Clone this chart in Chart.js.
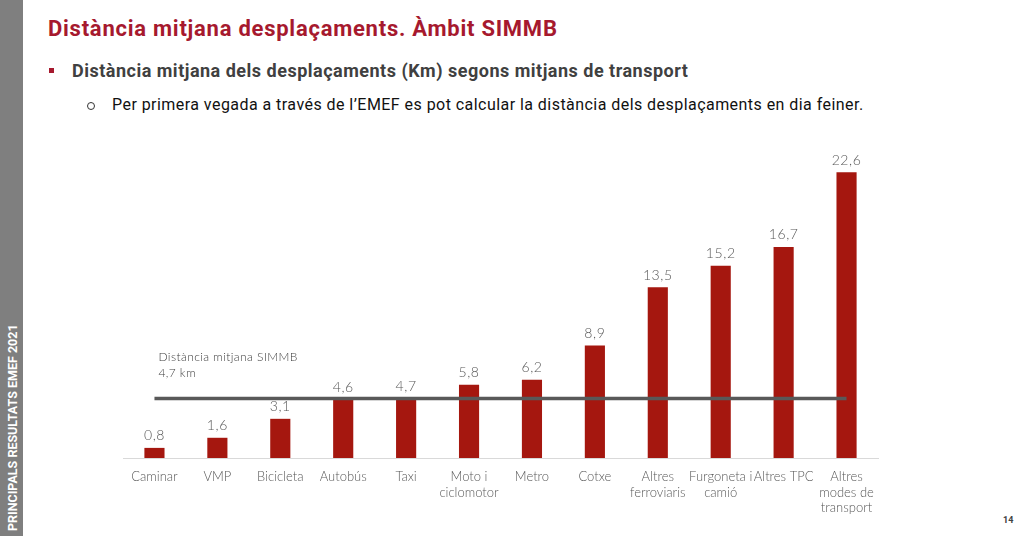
<!DOCTYPE html>
<html>
<head>
<meta charset="utf-8">
<script src="https://cdn.jsdelivr.net/npm/chart.js@4"></script>
<style>
  body { margin: 0; width: 1024px; height: 536px; overflow: hidden; background: #fff; font-family: Roboto, sans-serif; position: relative; }
  .barra { position: absolute; left: 0; top: 0; width: 23px; height: 536px; background: #7f7f7f; }
  .barra span { position: absolute; left: 12px; top: 531px; transform-origin: 0 0; transform: rotate(-90deg) translateY(-50%); white-space: nowrap; color: #fff; font-weight: bold; font-size: 12.5px; }
  h1 { position: absolute; left: 48px; top: 16px; margin: 0; font-size: 22px; letter-spacing: 0.75px; color: #a6192e; font-weight: bold; }
  .sub { position: absolute; left: 72px; top: 60px; font-size: 18px; letter-spacing: 0.5px; font-weight: bold; color: #404040; }
  .quad { position: absolute; left: 49px; top: 68px; width: 5px; height: 5px; background: #a6192e; }
  .sub2 { position: absolute; left: 112px; top: 95px; font-size: 16px; letter-spacing: 0.45px; color: #111; }
  .cercle { position: absolute; left: 87px; top: 102px; width: 6px; height: 6px; border: 1px solid #333; border-radius: 50%; }
  .pag { position: absolute; left: 1003px; top: 515px; font-size: 9px; font-weight: bold; color: #404040; }
  #grafic { position: absolute; left: 0; top: 0; }
</style>
</head>
<body>
<div class="barra"><span>PRINCIPALS RESULTATS EMEF 2021</span></div>
<h1>Distància mitjana desplaçaments. Àmbit SIMMB</h1>
<div class="quad"></div>
<div class="sub">Distància mitjana dels desplaçaments (Km) segons mitjans de transport</div>
<div class="cercle"></div>
<div class="sub2">Per primera vegada a través de l’EMEF es pot calcular la distància dels desplaçaments en dia feiner.</div>
<div class="pag">14</div>
<canvas id="grafic" width="1024" height="536"></canvas>
<script>
// Mitjans de transport
const mitjans = [
  "Caminar", "VMP", "Bicicleta", "Autobús", "Taxi", ["Moto i", "ciclomotor"], "Metro", "Cotxe",
  ["Altres", "ferroviaris"], ["Furgoneta i", "camió"], "Altres TPC", ["Altres", "modes de", "transport"]
];
// Distància mitjana (km)
const distancies = [0.8, 1.6, 3.1, 4.6, 4.7, 5.8, 6.2, 8.9, 13.5, 15.2, 16.7, 22.6];
const mitjanaSIMMB = 4.7;

const fmt = v => v.toFixed(1).replace(".", ",");

// etiquetes de valor i text de la mitjana
const etiquetes = {
  id: "etiquetes",
  afterDatasetsDraw(chart) {
    const ctx = chart.ctx;
    const meta = chart.getDatasetMeta(1);
    ctx.save();
    ctx.font = "300 14px Lato, sans-serif";
    ctx.letterSpacing = "0.6px";
    ctx.fillStyle = "#595959";
    ctx.textAlign = "center";
    ctx.textBaseline = "bottom";
    meta.data.forEach((bar, i) => {
      ctx.fillText(fmt(distancies[i]), bar.x, bar.y - 5);
    });
    const x0 = chart.scales.x.getPixelForValue(0);
    const y0 = chart.scales.y.getPixelForValue(mitjanaSIMMB);
    ctx.font = "300 12px Lato, sans-serif";
    ctx.letterSpacing = "0.4px";
    ctx.fillStyle = "#404040";
    ctx.textAlign = "left";
    ctx.textBaseline = "middle";
    ctx.fillText("Distància mitjana SIMMB", x0 + 4, y0 - 41);
    ctx.fillText("4,7 km", x0 + 4, y0 - 25);
    ctx.restore();
  }
};

new Chart(document.getElementById("grafic"), {
  data: {
    labels: mitjans,
    datasets: [
      {
        type: "line",
        label: "Mitjana SIMMB",
        data: mitjans.map(() => mitjanaSIMMB),
        borderColor: "#595959",
        borderWidth: 3.5,
        pointRadius: 0,
        order: 0
      },
      {
        type: "bar",
        label: "Distància",
        data: distancies,
        backgroundColor: "#a5170f",
        categoryPercentage: 1,
        barPercentage: 0.32,
        order: 1
      }
    ]
  },
  options: {
    responsive: false,
    animation: false,
    layout: { padding: { left: 123, right: 146, top: 142, bottom: 0 } },
    plugins: { legend: { display: false }, tooltip: { enabled: false } },
    scales: {
      x: {
        grid: { display: false },
        border: { color: "#d9d9d9", width: 1 },
        ticks: { color: "#595959", font: { family: "Lato, sans-serif", size: 13, weight: 300, lineHeight: 1.2 }, padding: 3, maxRotation: 0, autoSkip: false },
        afterFit: s => { s.height = 78; }
      },
      y: { display: false, min: 0, max: 25 }
    }
  },
  plugins: [etiquetes]
});
</script>
</body>
</html>
